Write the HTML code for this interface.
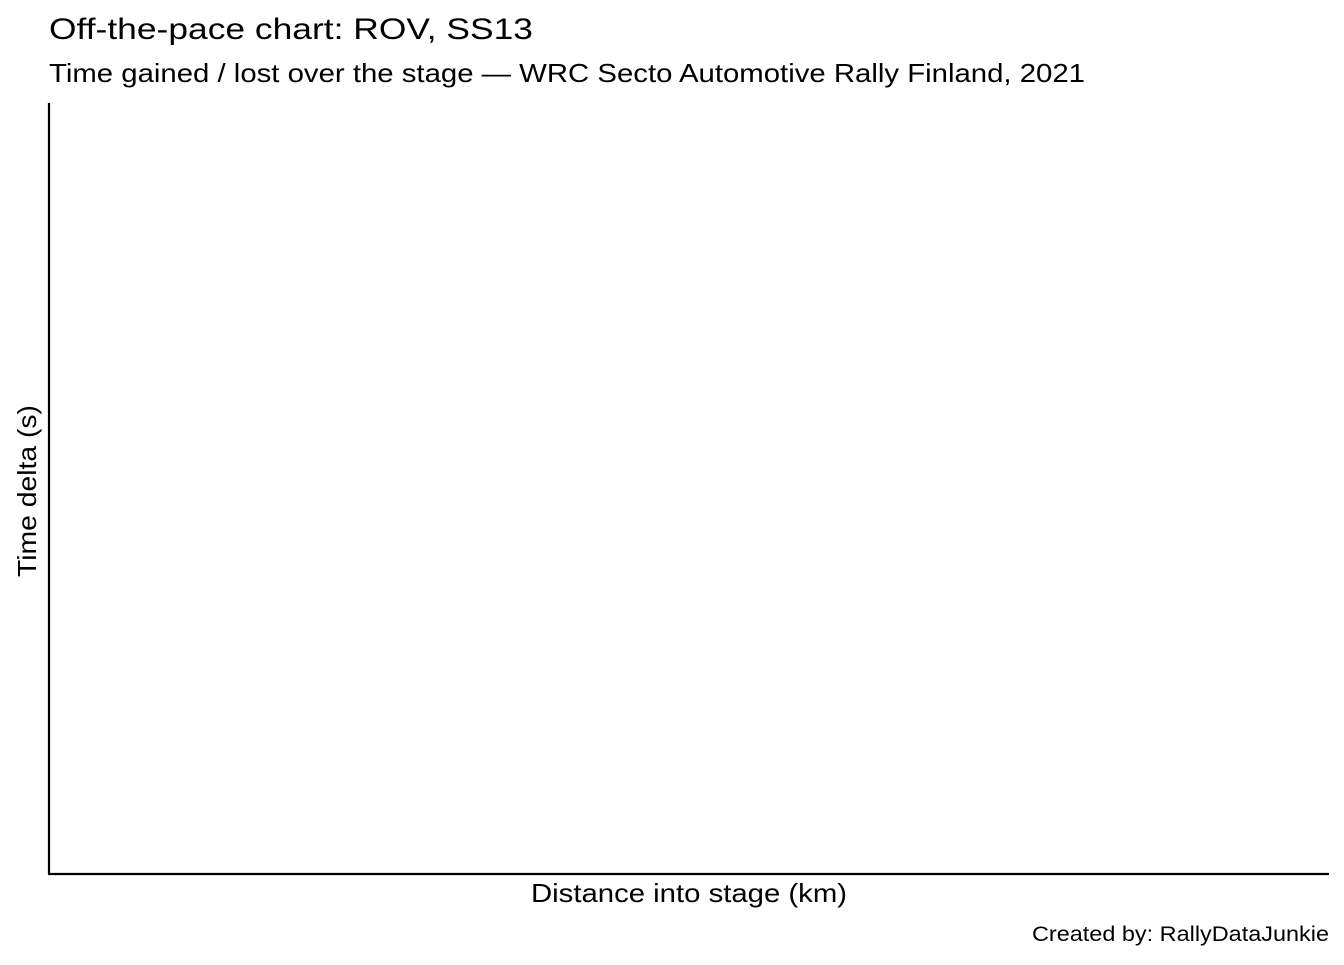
<!DOCTYPE html>
<html><head><meta charset="utf-8"><style>
body{margin:0;background:#fff;width:1344px;height:960px;overflow:hidden;font-family:"Liberation Sans",Arial,sans-serif}
</style></head><body>
<svg width="1344" height="960" xmlns="http://www.w3.org/2000/svg" font-family="Liberation Sans, Arial, sans-serif">
<text x="49" y="39" font-size="30" textLength="484" lengthAdjust="spacingAndGlyphs" fill="#000">Off-the-pace chart: ROV, SS13</text>
<text x="49" y="82" font-size="26" textLength="1036" lengthAdjust="spacingAndGlyphs" fill="#000">Time gained / lost over the stage — WRC Secto Automotive Rally Finland, 2021</text>
<g id="plot"></g>
<line x1="49" y1="103" x2="49" y2="874" stroke="#000" stroke-width="2.2"/>
<line x1="48" y1="874" x2="1329" y2="874" stroke="#000" stroke-width="2.2"/>
<text x="531" y="902" font-size="26" textLength="316" lengthAdjust="spacingAndGlyphs" fill="#000">Distance into stage (km)</text>
<text transform="translate(36,577) rotate(-90)" font-size="26" textLength="172" lengthAdjust="spacingAndGlyphs" fill="#000">Time delta (s)</text>
<text x="1032" y="941" font-size="21" textLength="297" lengthAdjust="spacingAndGlyphs" fill="#000">Created by: RallyDataJunkie</text>
</svg>
<script>
// No data series are visible in the reference chart
const distances = [];
const deltas = [];
</script>
</body></html>
